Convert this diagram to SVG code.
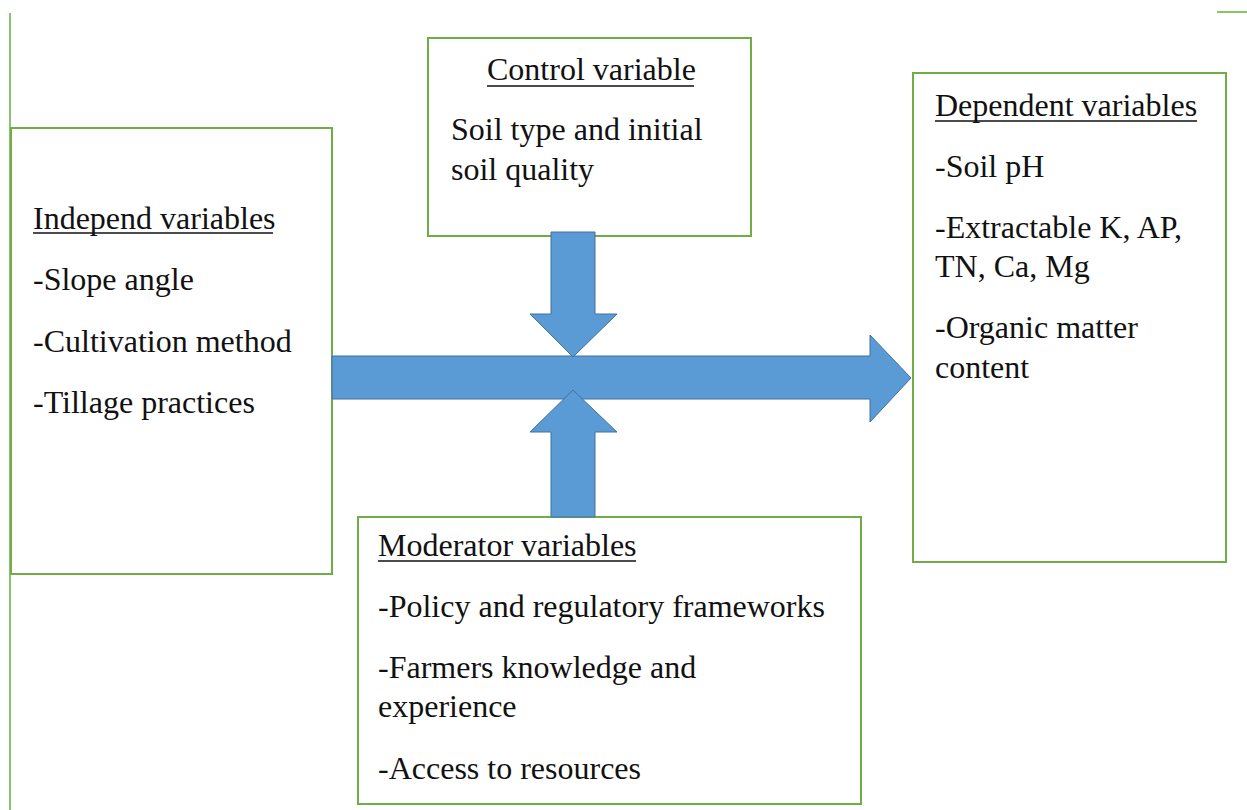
<svg xmlns="http://www.w3.org/2000/svg" width="1247" height="810" viewBox="0 0 1247 810">
<style>
.box{fill:#fff;stroke:#70AD47;stroke-width:2}
.pg{stroke:#8cc46a;stroke-width:2;fill:none}
.t{font-size:32px;fill:#111}
.ul{stroke:#111;stroke-width:1.6}
.arr{fill:#5B9BD5;stroke:#41719C;stroke-width:1}
</style>
<rect width="1247" height="810" fill="#fff"/>
<g id="page">
<line class="pg" x1="10" y1="13" x2="10" y2="810"/>
<line class="pg" x1="1217" y1="12" x2="1247" y2="12"/>
</g>
<g font-family="Liberation Serif, DejaVu Serif, serif">
<g id="independent">
<rect class="box" x="11" y="128" width="321" height="446"/>
<text class="t" x="33" y="229">Independ variables</text>
<line class="ul" x1="33" y1="233" x2="273" y2="233"/>
<text class="t" x="33" y="290">-Slope angle</text>
<text class="t" x="33" y="352">-Cultivation method</text>
<text class="t" x="33" y="413">-Tillage practices</text>
</g>
<g id="control">
<rect class="box" x="428" y="38" width="323" height="198"/>
<text class="t" x="487" y="80">Control variable</text>
<line class="ul" x1="487" y1="86" x2="694" y2="86"/>
<text class="t" x="451" y="140">Soil type and initial</text>
<text class="t" x="451" y="180">soil quality</text>
</g>
<g id="dependent">
<rect class="box" x="913" y="73" width="313" height="489"/>
<text class="t" x="935" y="116">Dependent variables</text>
<line class="ul" x1="935" y1="121" x2="1197" y2="121"/>
<text class="t" x="935" y="177">-Soil pH</text>
<text class="t" x="935" y="238">-Extractable K, AP,</text>
<text class="t" x="935" y="277">TN, Ca, Mg</text>
<text class="t" x="935" y="338">-Organic matter</text>
<text class="t" x="935" y="378">content</text>
</g>
<g id="moderator">
<rect class="box" x="358" y="517" width="503" height="287"/>
<text class="t" x="378" y="556">Moderator variables</text>
<line class="ul" x1="378" y1="561" x2="636" y2="561"/>
<text class="t" x="378" y="617">-Policy and regulatory frameworks</text>
<text class="t" x="378" y="678">-Farmers knowledge and</text>
<text class="t" x="378" y="717">experience</text>
<text class="t" x="378" y="779">-Access to resources</text>
</g>
</g>
<g id="connectors">
<polygon class="arr" points="332,356 870,356 870,335 911,378 870,422 870,399 332,399"/>
<polygon class="arr" points="551,232 595,232 595,314 617,314 573,357 530,314 551,314"/>
<polygon class="arr" points="573,390 617,432 595,432 595,517 551,517 551,432 530,432"/>
</g>
</svg>
